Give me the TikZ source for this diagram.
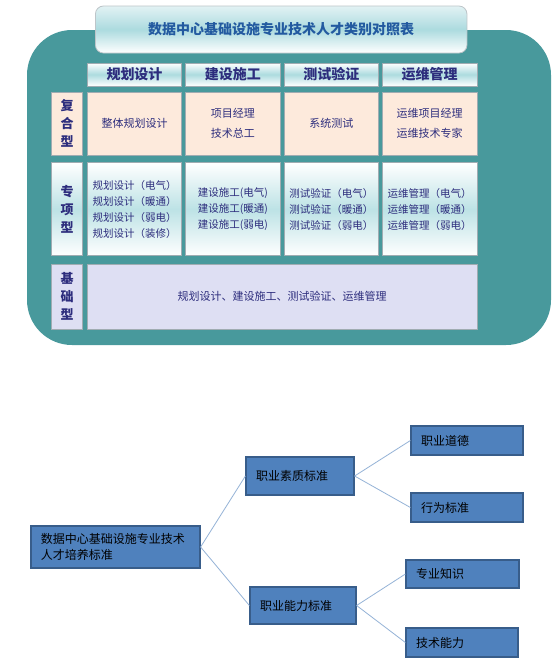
\documentclass[tikz,border=0pt]{standalone}
\usepackage{fontspec}
\setmainfont{Noto Sans CJK SC}
\usetikzlibrary{positioning}
\definecolor{tealbg}{RGB}{72,153,156}
\definecolor{tealmid}{RGB}{172,219,223}
\definecolor{titleblue}{RGB}{35,90,160}
\definecolor{navy}{RGB}{45,45,125}
\definecolor{softpeach}{RGB}{253,234,220}
\definecolor{softlavender}{RGB}{222,223,243}
\definecolor{cellline}{RGB}{160,172,178}
\definecolor{boxblue}{RGB}{79,129,189}
\definecolor{boxline}{RGB}{56,93,138}
\definecolor{linkblue}{RGB}{149,179,215}

\begin{document}
\begin{tikzpicture}[x=1pt, y=-1pt,
        cell/.style={rectangle, draw=cellline, line width=0.8pt, inner sep=0pt, align=center, text=navy, font=\fontsize{11}{20}\selectfont},
        head/.style={cell, top color=white, bottom color=white, middle color=tealmid, minimum width=94.5pt, minimum height=23pt, font=\bfseries\fontsize{14}{16}\selectfont},
        kind/.style={cell, minimum width=31pt, font=\bfseries\fontsize{13}{18}\selectfont},
        spec/.style={cell, top color=white, bottom color=white, middle color=tealmid!80, minimum height=93pt, align=left, font=\fontsize{10.5}{16}\selectfont},
        banner/.style={rectangle, rounded corners=8pt, draw=cellline!70, line width=0.8pt, top color=tealmid!35, bottom color=white, middle color=tealmid, text=titleblue, font=\bfseries\fontsize{14}{16}\selectfont},
        box/.style={rectangle, draw=boxline, line width=1.2pt, fill=boxblue, inner xsep=10pt, inner ysep=0pt, align=left, font=\fontsize{12}{16}\selectfont},
        link/.style={draw=linkblue, line width=0.8pt}
    ]
        \useasboundingbox (0,0) rectangle (558,665);
        \fill[white] (0,0) rectangle (558,665);

        % upper table
        \fill[tealbg, rounded corners=45pt] (27,30) rectangle (551,345);
        \node[banner, minimum width=371.5pt, minimum height=47pt] (title) at (281.2,29.5) {数据中心基础设施专业技术人才类别对照表};

        \node[head] (h1) at (134.5,74.5) {规划设计};
        \node[head] (h2) at (232.9,74.5) {建设施工};
        \node[head] (h3) at (331.3,74.5) {测试验证};
        \node[head] (h4) at (429.7,74.5) {运维管理};

        \node[kind, fill=softpeach, minimum height=63pt] (k1) at (67.2,123.5) {复\\合\\型};
        \node[cell, fill=softpeach, minimum width=94.5pt, minimum height=63pt] (a1) at (134.5,123.5) {整体规划设计};
        \node[cell, fill=softpeach, minimum width=94.5pt, minimum height=63pt] (a2) at (232.9,123.5) {项目经理\\技术总工};
        \node[cell, fill=softpeach, minimum width=94.5pt, minimum height=63pt] (a3) at (331.3,123.5) {系统测试};
        \node[cell, fill=softpeach, minimum width=94.5pt, minimum height=63pt] (a4) at (429.7,123.5) {运维项目经理\\运维技术专家};

        \node[kind, top color=white, bottom color=white, middle color=tealmid!80, minimum height=93pt] (k2) at (67.2,209.3) {专\\项\\型};
        \node[spec, minimum width=94.5pt] (b1) at (134.5,209.3) {规划设计（电气）\\规划设计（暖通）\\规划设计（弱电）\\规划设计（装修）};
        \node[spec, minimum width=94.5pt] (b2) at (232.9,209.3) {建设施工(电气)\\建设施工(暖通)\\建设施工(弱电)};
        \node[spec, minimum width=94.5pt] (b3) at (331.3,209.3) {测试验证（电气）\\测试验证（暖通）\\测试验证（弱电）};
        \node[spec, minimum width=94.5pt] (b4) at (429.7,209.3) {运维管理（电气）\\运维管理（暖通）\\运维管理（弱电）};

        \node[kind, fill=softlavender, minimum height=65pt] (k3) at (67.2,296.5) {基\\础\\型};
        \node[cell, fill=softlavender, minimum width=389.7pt, minimum height=65pt] (c1) at (282.2,296.5) {规划设计、建设施工、测试验证、运维管理};

        % lower tree
        \node[box, text width=149pt, minimum height=42pt] (root) at (115.5,547) {数据中心基础设施专业技术\\人才培养标准};
        \node[box, text width=88pt, minimum height=38pt] (quality) at (300,476) {职业素质标准};
        \node[box, text width=86pt, minimum height=37pt] (ability) at (303,605.5) {职业能力标准};
        \node[box, text width=92pt, minimum height=29pt] (ethics) at (467,440.5) {职业道德};
        \node[box, text width=92pt, minimum height=29pt] (conduct) at (467,507.5) {行为标准};
        \node[box, text width=93pt, minimum height=28pt] (knowledge) at (462.5,574) {专业知识};
        \node[box, text width=92pt, minimum height=29pt] (skill) at (462,642.5) {技术能力};

        \draw[link] (root.east) -- (quality.west);
        \draw[link] (root.east) -- (ability.west);
        \draw[link] (quality.east) -- (ethics.west);
        \draw[link] (quality.east) -- (conduct.west);
        \draw[link] (ability.east) -- (knowledge.west);
        \draw[link] (ability.east) -- (skill.west);
    \end{tikzpicture}
\end{document}
